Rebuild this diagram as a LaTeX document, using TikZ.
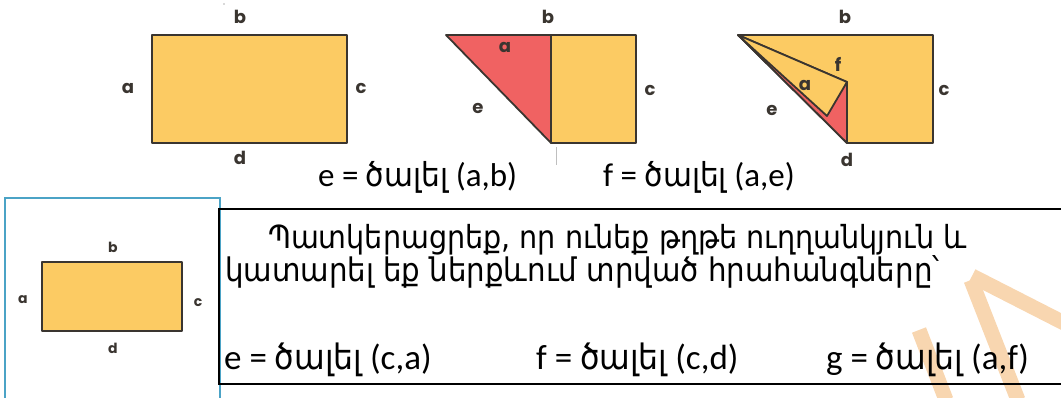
\documentclass[tikz,border=0pt]{standalone}
\usepackage{fontspec}
\setmainfont{Carlito}
\newfontfamily\armfont{DejaVu Sans Condensed}
\newfontfamily\labfont{Poppins Bold}
\newcommand\am[1]{{\armfont #1}}
\definecolor{yel}{HTML}{FCCB63}
\definecolor{redc}{HTML}{F06262}
\definecolor{edge}{HTML}{3A3530}
\definecolor{bluec}{HTML}{4BA3C6}
\definecolor{wm}{HTML}{F8D6B0}
\begin{document}
\begin{tikzpicture}[x=1pt,y=-1pt,
  paper/.style={fill=yel,draw=edge,line width=1.8pt,line join=round},
  flap/.style={fill=redc,draw=edge,line width=1.8pt,line join=round},
  lab/.style={font=\labfont\fontsize{18}{18}\selectfont,text=edge,inner sep=0},
  slab/.style={font=\labfont\fontsize{14}{14}\selectfont,text=edge,inner sep=0},
  captxt/.style={font=\fontsize{33}{33}\selectfont,anchor=base west,inner sep=0},
  txt/.style={font=\fontsize{32.5}{33}\selectfont,anchor=base west,inner sep=0},
  txtone/.style={font=\fontsize{31.8}{33}\selectfont,anchor=base west,inner sep=0},
  eqn/.style={font=\fontsize{35}{35}\selectfont,anchor=base west,inner sep=0},
  wmark/.style={draw=wm,line width=15pt}]
\useasboundingbox (0,0) rectangle (1061,398);
% watermark
\draw[wmark] (919,330) -- (946,400);
\draw[wmark] (971,280) -- (1018,400);
\draw[wmark] (972,276) -- (1066,324);
% figure 1
\draw[paper] (152,35) rectangle (347,143);
\node[lab] (b1) at (240,17) {b};
\node[lab] (a1) at (128,88) {a};
\node[lab] (c1) at (361,88) {c};
\node[lab] (d1) at (240,158) {d};
\fill[gray!60] (224,4) circle (0.8);
% figure 2
\draw[flap] (446,35) -- (551,35) -- (551,143) -- cycle;
\draw[paper] (551,35) rectangle (636,143);
\node[lab] (b2) at (548,17) {b};
\node[lab] (a2) at (505,47) {a};
\node[lab] (e2) at (478,108) {e};
\node[lab] (c2) at (650,90) {c};
\draw[gray!50,line width=0.6pt] (556,147) -- (556,165);
% figure 3
\draw[paper] (738,35) -- (933,35) -- (933,143) -- (847,143) -- cycle;
\draw[flap] (738,35) -- (847,143) -- (847,82) -- cycle;
\draw[paper] (738,35) -- (847,82) -- (827,116) -- cycle;
\node[lab] (b3) at (845,17) {b};
\node[lab] (c3) at (944,90) {c};
\node[lab] (f3) at (838,64) {f};
\node[lab] (a3) at (805,85) {a};
\node[lab] (e3) at (772,110) {e};
\node[lab] (d3) at (847,160) {d};
% captions
\node[captxt] (t1) at (318,187) {e = \am{ծալել} (a,b)};
\node[captxt] (t2) at (603,187) {f = \am{ծալել} (a,e)};
% bottom-left box
\draw[bluec,line width=1.5pt] (5,398) -- (5,198) -- (220,198) -- (220,398);
\draw[paper,line width=1.5pt] (42,262) rectangle (182,331);
\node[slab] (b4) at (113,247) {b};
\node[slab] (a4) at (23,300) {a};
\node[slab] (c4) at (198,303) {c};
\node[slab] (d4) at (113,348) {d};
% text box
\draw[black,line width=1.5pt] (1061,209) -- (219,209) -- (219,384) -- (1061,384);
\node[txtone] (l1) at (268,249) {\am{Պատկերացրեք, որ ունեք թղթե ուղղանկյուն և}};
\node[txt] (l2) at (225,282) {\am{կատարել եք ներքևում տրված հրահանգները՝}};
\node[eqn] (g1) at (224,370) {e = \am{ծալել} (c,a)};
\node[eqn] (g2) at (536,370) {f = \am{ծալել} (c,d)};
\node[eqn] (g3) at (826,370) {g = \am{ծալել} (a,f)};
\end{tikzpicture}
\end{document}
